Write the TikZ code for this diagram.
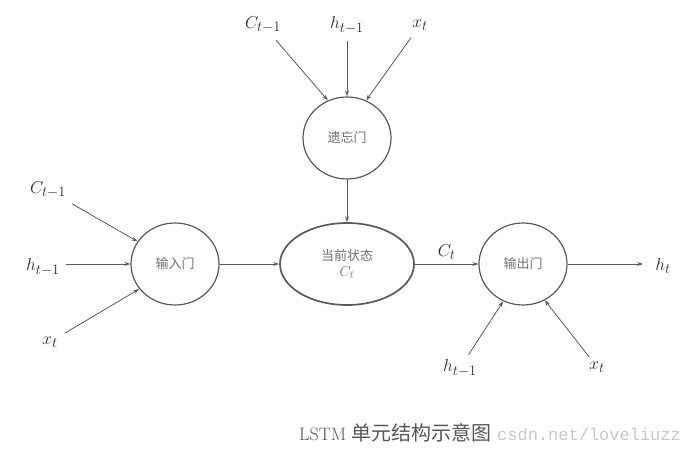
\documentclass[tikz,border=0pt]{standalone}
\usepackage{fontspec}
\newfontfamily\cjk{Noto Sans CJK SC}
\newfontfamily\wmfont{Liberation Mono}
\usetikzlibrary{arrows.meta,shapes.geometric}
\definecolor{lin}{HTML}{5A5A5A}
\definecolor{txt}{HTML}{2A2A2A}
\definecolor{cjkgray}{HTML}{707070}
\begin{document}
\begin{tikzpicture}[x=1pt,y=-1pt,
  gate/.style={draw=lin,ellipse,line width=1.2pt,minimum width=88pt,minimum height=82pt,inner sep=0pt,
    font=\cjk\fontsize{13}{15}\selectfont,text=cjkgray},
  lbl/.style={inner sep=3pt,text=txt,font=\fontsize{19}{21}\selectfont},
  arr/.style={draw=lin,line width=0.8pt,-{Stealth[length=6pt,width=4pt]}},
  arrs/.style={arr,shorten <=5pt}]
\useasboundingbox (0,0) rectangle (694,452);
% gates
\node[gate] (f) at (347,138) {遗忘门};
\node[gate] (i) at (175,264) {输入门};
\node[gate] (o) at (523,264) {输出门};
\node[gate,minimum width=134pt,line width=1.7pt,align=center] (s) at (347,264)
  {\strut{}当前状态\\[1pt]{\fontsize{15}{17}\selectfont$C_t$}};
% top inputs
\node[lbl] (fc) at (263,25) {$C_{t-1}$};
\node[lbl] (fh) at (347,25) {$h_{t-1}$};
\node[lbl] (fx) at (420,25) {$x_t$};
\draw[arrs] (fc) -- (f.117);
\draw[arrs] (fh) -- (f.90);
\draw[arrs] (fx) -- (f.63);
% left inputs
\node[lbl] (ic) at (48,190) {$C_{t-1}$};
\node[lbl] (ih) at (43,267) {$h_{t-1}$};
\node[lbl] (ix) at (50,342) {$x_t$};
\draw[arrs] (ic) -- (i.149);
\draw[arrs,shorten <=3pt] (ih.east |- i.180) -- (i.180);
\draw[arrs] (ix) -- (i.215);
% bottom inputs of output gate
\node[lbl] (oh) at (460,368) {$h_{t-1}$};
\node[lbl] (ox) at (597,367) {$x_t$};
\draw[arrs,shorten <=2pt] (oh) -- (o.242);
\draw[arrs,shorten <=2pt] (ox) -- (o.301);
% main flow
\draw[arr] (f.south) -- (s.north);
\draw[arr] (i.east) -- (s.west);
\draw[arr] (s.east) -- node[lbl,above=1pt] (ct) {$C_t$} (o.west);
\node[lbl] (ht) at (663,266) {$h_t$};
\draw[arr,shorten >=9pt] (o.east) -- (ht.west |- o.east);
% caption and watermark
\node[anchor=base west,inner sep=0pt,text=txt!80,font=\fontsize{18}{20}\selectfont] (cap) at (299,440)
  {LSTM {\cjk\fontsize{20}{20}\selectfont 单元结构示意图}};
\node[anchor=base west,inner sep=0pt,text=black!22,font=\wmfont\fontsize{17}{20}\selectfont] (wm) at (497,440)
  {csdn.net/loveliuzz};
\end{tikzpicture}
\end{document}
